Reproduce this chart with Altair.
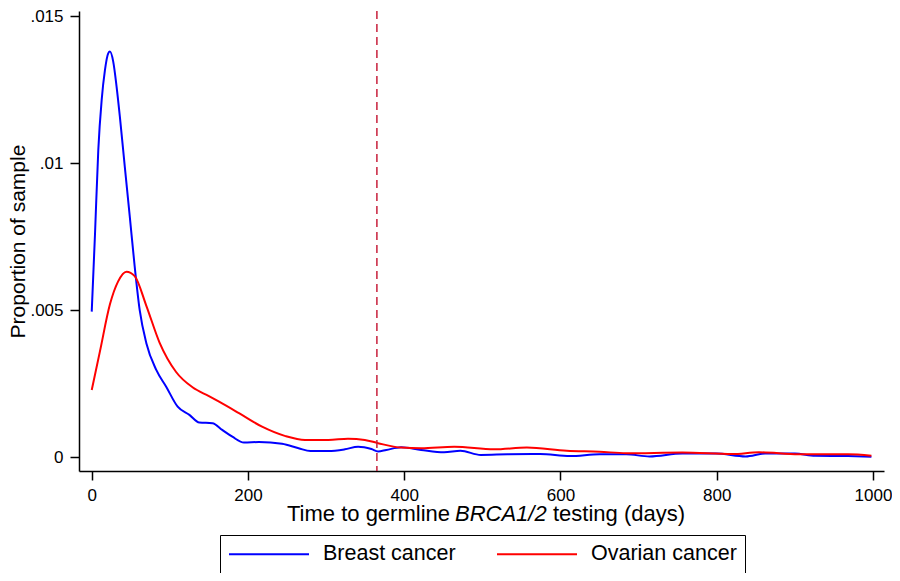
import altair as alt
import pandas as pd

# ---- data ----
series_names = ["Breast cancer", "Ovarian cancer"]
series_colors = ["#0000ff", "#ff0000"]

breast_days = [0, 4.2, 8.4, 12.7, 16.9, 21.1, 23.3, 27.5, 31.8, 36, 42.3, 48.7, 55,
               61.4, 69.9, 82.6, 95.3, 110, 125, 137.7, 154.6, 167, 180, 194.9, 214,
               243.6, 264.8, 280, 303, 324, 341, 358, 366.5, 377, 396, 421.6, 451,
               472, 498, 532, 574, 612, 650, 684, 714, 756, 799, 837, 862, 900, 926,
               968, 998]
breast_vals = [0.00495, 0.0076, 0.01045, 0.01214, 0.01316, 0.01373, 0.01379, 0.01345,
               0.0126, 0.01158, 0.00988, 0.00818, 0.00648, 0.005, 0.00388, 0.00297,
               0.0024, 0.00172, 0.00144, 0.00118, 0.00116, 0.00093, 0.0007, 0.0005,
               0.00052, 0.00046, 0.00031, 0.00021, 0.00021, 0.00027, 0.00036, 0.00028,
               0.0002, 0.00025, 0.00034, 0.00025, 0.00017, 0.00022, 0.00008, 0.0001,
               0.00011, 0.00004, 0.0001, 0.0001, 0.00003, 0.00013, 0.00013, 0.00003,
               0.00013, 0.00013, 0.00005, 0.00004, 0.00002]

ovarian_days = [0, 10.5, 23.3, 33.8, 44.5, 55, 69.9, 86.8, 108, 129, 150, 163, 188.5,
                218, 248, 273, 303, 328, 349.6, 366.5, 396, 421.6, 464, 515, 557, 608,
                650, 684, 756, 820, 854, 905, 968, 998]
ovarian_vals = [0.00229, 0.0036, 0.0052, 0.00598, 0.00631, 0.00616, 0.00515, 0.0039,
                0.0029, 0.00238, 0.00208, 0.00189, 0.0015, 0.00104, 0.00072, 0.00059,
                0.00059, 0.00063, 0.00059, 0.00048, 0.00033, 0.00031, 0.00036, 0.00027,
                0.00033, 0.00022, 0.00019, 0.00014, 0.00016, 0.00011, 0.00017, 0.0001,
                0.0001, 0.00005]

x_ticks = [0, 200, 400, 600, 800, 1000]
y_ticks = [0, 0.005, 0.01, 0.015]
cutoff_day = [365]
title_parts = ["Time to germline", "BRCA1/2", "testing (days)"]
y_title = "Proportion of sample"

FONT = "Liberation Sans"

df = pd.concat([
    pd.DataFrame({"day": breast_days, "value": breast_vals, "series": series_names[0]}),
    pd.DataFrame({"day": ovarian_days, "value": ovarian_vals, "series": series_names[1]}),
], ignore_index=True)

x_scale = alt.Scale(domain=[-16.3, 1014.1], nice=False, zero=False)
y_scale = alt.Scale(domain=[-0.000466, 0.01517], nice=False, zero=False)

x_axis = alt.Axis(values=x_ticks, title=None, labelFlush=False, grid=False,
                  tickSize=9, labelPadding=7, labelFontSize=17, format="d")
y_axis = alt.Axis(values=y_ticks, title=y_title, labelFlush=False, grid=False,
                  tickSize=9, labelPadding=7, labelFontSize=17,
                  labelExpr="datum.value == 0 ? '0' : substring(format(datum.value, '.3~f'), 1)",
                  titleFontSize=21, titleFontWeight="normal", titlePadding=1)

lines = alt.Chart(df).mark_line(strokeWidth=2, interpolate="monotone", clip=True).encode(
    x=alt.X("day:Q", scale=x_scale, axis=x_axis),
    y=alt.Y("value:Q", scale=y_scale, axis=y_axis),
    color=alt.Color("series:N",
                    scale=alt.Scale(domain=series_names, range=series_colors),
                    legend=alt.Legend(title=None, orient="none", direction="horizontal",
                                      legendX=141, legendY=524,
                                      strokeColor="black", padding=8,
                                      symbolType="M-1,0H7", symbolSize=400,
                                      symbolStrokeWidth=2, labelFontSize=21.5,
                                      labelOffset=73, columnPadding=37,
                                      labelLimit=400, labelColor="black",
                                      labelFont=FONT)),
)

rule = alt.Chart(pd.DataFrame({"day": cutoff_day})).mark_rule(
    color="#c8203c", strokeDash=[8, 5], strokeWidth=1.5
).encode(x=alt.X("day:Q", scale=x_scale, axis=x_axis))

def title_piece(text, x, align, style="normal"):
    return alt.Chart(pd.DataFrame({"t": [text]})).mark_text(
        align=align, baseline="alphabetic", fontSize=22, font=FONT,
        fontStyle=style, color="black"
    ).encode(x=alt.value(x), y=alt.value(510), text="t:N")

t1 = title_piece(title_parts[0], 371, "right")
t2 = title_piece(title_parts[1], 376, "left", "italic")
t3 = title_piece(title_parts[2], 474, "left")

chart = alt.layer(lines, rule, t1, t2, t3).properties(
    width=805, height=460,
    autosize=alt.AutoSizeParams(type="none"),
    padding={"left": 71, "top": 3, "right": 8, "bottom": 102},
).configure(font=FONT).configure_view(
    strokeWidth=0, stroke="transparent"
).configure_axis(
    labelFont=FONT, titleFont=FONT, labelColor="black", titleColor="black",
    domainColor="black", tickColor="black", domainWidth=1.5, tickWidth=1.5,
)

chart.save("out.html", embed_options={"renderer": "svg", "actions": False})
